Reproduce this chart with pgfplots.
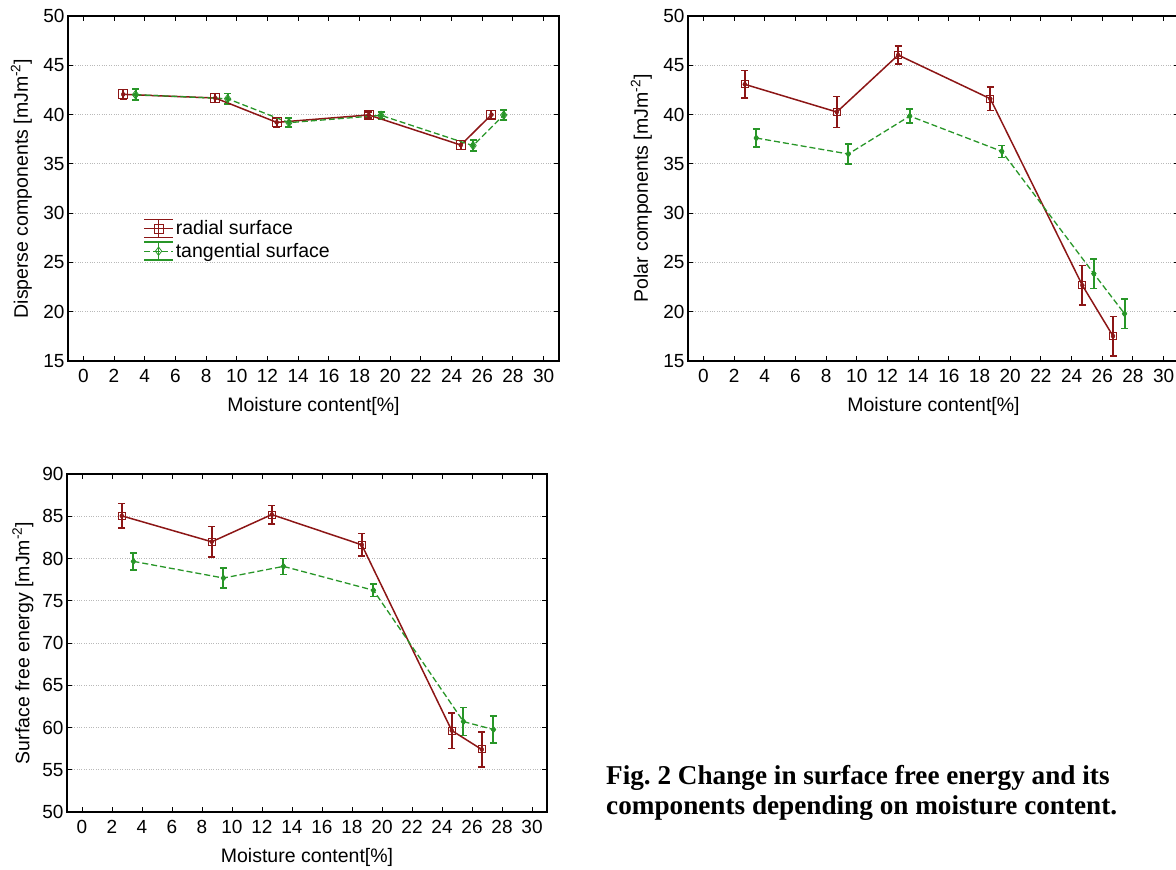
\documentclass[border=0pt]{standalone}
\usepackage{pgfplots}
\usepackage{pgfplotstable}
\pgfplotsset{compat=1.18}
\usepackage{fontspec}
\setmainfont{Liberation Sans}
\newfontfamily\capfont{Liberation Serif}
\definecolor{rad}{RGB}{140,22,22}
\definecolor{tgr}{RGB}{40,150,40}

\pgfplotstableread{
x y e
2.6 42.05 0.5
8.6 41.68 0.45
12.6 39.21 0.45
18.6 39.96 0.3
24.6 36.91 0.45
26.6 39.99 0.4
}\disR
\pgfplotstableread{
x y e
3.4 42.02 0.55
9.4 41.61 0.55
13.4 39.18 0.45
19.4 39.92 0.35
25.4 36.85 0.55
27.4 39.95 0.5
}\disT
\pgfplotstableread{
x y e
2.7 43.07 1.4
8.7 40.26 1.55
12.7 46.04 0.9
18.7 41.61 1.2
24.7 22.68 2.0
26.7 17.53 2.0
}\polR
\pgfplotstableread{
x y e
3.45 37.62 0.9
9.45 36.0 1.0
13.45 39.85 0.7
19.45 36.27 0.6
25.45 23.86 1.5
27.45 19.8 1.5
}\polT
\pgfplotstableread{
x y e
2.65 85.05 1.45
8.65 81.98 1.8
12.65 85.2 1.1
18.65 81.62 1.35
24.65 59.64 2.1
26.65 57.4 2.05
}\sfeR
\pgfplotstableread{
x y e
3.43 79.66 1.0
9.43 77.69 1.2
13.43 79.07 0.95
19.43 76.24 0.75
25.43 60.70 1.65
27.43 59.76 1.6
}\sfeT

\pgfplotsset{
  mystyle/.style={
    scale only axis,
    xmin=-1, xmax=31, xtick={0,2,...,30},
    tick align=inside, tick pos=both, major tick length=5pt,
    tick style={black, line width=1pt},
    axis line style={line width=1.3pt},
    ymajorgrids, major grid style={gray!55, dotted, line width=1pt},
    /pgf/number format/assume math mode=true,
    tick label style={font=\fontsize{19}{22}\selectfont},
    xticklabel style={yshift=-5pt},
    xlabel={Moisture content[\%]},
    every axis x label/.style={at={(axis description cs:0.5,0)}, anchor=center, yshift=-45pt, font=\fontsize{19.5}{22}\selectfont},
    legend image code/.code={%
      \draw[##1,solid,mark=none,line width=1.5pt] (0pt,9pt) -- (29pt,9pt) (0pt,-9pt) -- (29pt,-9pt) (14.5pt,-9pt) -- (14.5pt,9pt);
      \draw[mark repeat=2,mark phase=2,##1] plot coordinates {(0pt,0pt) (14.5pt,0pt) (29pt,0pt)};
    },
  },
  ebar/.style={#1, forget plot, only marks, mark=none,
    error bars/.cd, y dir=both, y explicit, error mark=|,
    error bar style={#1, line width=2pt, solid},
    error mark options={#1, mark size=3.5pt, line width=1.5pt, solid}},
  radial/.style={rad, line width=1.5pt, mark=square, mark size=#1, mark options={solid, fill=white, line width=1pt}},
  tangential/.style={tgr, line width=1.3pt, dash pattern=on 6pt off 3pt, mark=diamond, mark size=#1, mark options={solid, fill=white, line width=0.8pt}},
}

\begin{document}
\frenchspacing
\begin{tikzpicture}
\path[use as bounding box] (0pt,0pt) rectangle (1176pt,-870pt);

% Plot 1
\begin{axis}[mystyle, at={(68pt,-361pt)}, anchor=south west, width=491pt, height=345pt,
  ymin=15, ymax=50, ytick={15,20,...,50},
  ylabel={Disperse components [mJm\textsuperscript{-2}]},
  every axis y label/.style={at={(axis description cs:-0.095,0.5)}, rotate=90, anchor=center, font=\fontsize{19.5}{22}\selectfont},
  legend style={at={(axis description cs:0.153,0.413)}, anchor=north west, draw=none, fill=none,
    inner sep=0pt, row sep=3pt, font=\fontsize{19.5}{22}\selectfont},
  legend cell align=left]
\addplot[ebar=rad] table[x=x, y=y, y error=e] {\disR};
\addplot[ebar=tgr] table[x=x, y=y, y error=e] {\disT};
\addplot[radial=4.5pt] table[x=x, y=y] {\disR};
\addlegendentry{radial surface}
\addplot[tangential=4.2pt] table[x=x, y=y] {\disT};
\addlegendentry{tangential surface}
\end{axis}

% Plot 2
\begin{axis}[mystyle, at={(688pt,-361pt)}, anchor=south west, width=491pt, height=345pt,
  ymin=15, ymax=50, ytick={15,20,...,50},
  ylabel={Polar components [mJm\textsuperscript{-2}]},
  every axis y label/.style={at={(axis description cs:-0.095,0.5)}, rotate=90, anchor=center, font=\fontsize{19.5}{22}\selectfont}]
\addplot[ebar=rad] table[x=x, y=y, y error=e] {\polR};
\addplot[ebar=tgr] table[x=x, y=y, y error=e] {\polT};
\addplot[radial=3.5pt] table[x=x, y=y] {\polR};
\addplot[tangential=3pt] table[x=x, y=y] {\polT};
\end{axis}

% Plot 3
\begin{axis}[mystyle, at={(67pt,-812pt)}, anchor=south west, width=480pt, height=338pt,
  ymin=50, ymax=90, ytick={50,55,...,90},
  ylabel={Surface free energy [mJm\textsuperscript{-2}]},
  every axis y label/.style={at={(axis description cs:-0.092,0.5)}, rotate=90, anchor=center, font=\fontsize{19.5}{22}\selectfont}]
\addplot[ebar=rad] table[x=x, y=y, y error=e] {\sfeR};
\addplot[ebar=tgr] table[x=x, y=y, y error=e] {\sfeT};
\addplot[radial=3.5pt] table[x=x, y=y] {\sfeR};
\addplot[tangential=3pt] table[x=x, y=y] {\sfeT};
\end{axis}

\node[anchor=north west, align=left, inner sep=0pt, font=\capfont\bfseries\fontsize{27.2}{30}\selectfont]
  at (606pt,-765pt) {Fig. 2 Change in surface free energy and its\\components depending on moisture content.};
\end{tikzpicture}
\end{document}
